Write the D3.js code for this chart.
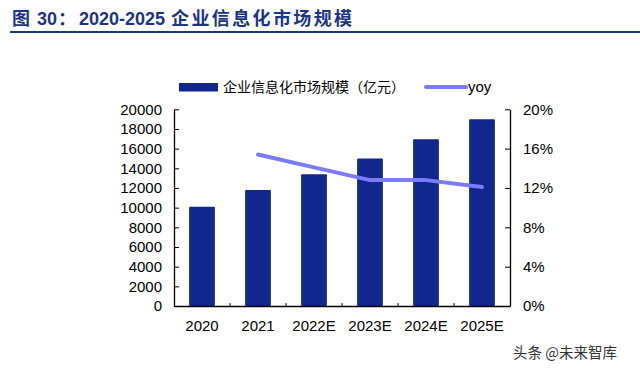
<!DOCTYPE html>
<html>
<head>
<meta charset="utf-8">
<script src="https://cdn.jsdelivr.net/npm/d3@7"></script>
<style>
  html, body { margin: 0; padding: 0; background: #fff; }
  svg { display: block; }
</style>
</head>
<body>
<svg id="chart" width="640" height="369"></svg>
<script>
const categories = ["2020", "2021", "2022E", "2023E", "2024E", "2025E"];
const marketSize = [10100, 11800, 13400, 15000, 16950, 19000];
const yoy = [null, 15.4, 14.1, 12.8, 12.8, 12.1];
const leftTicks = [0, 2000, 4000, 6000, 8000, 10000, 12000, 14000, 16000, 18000, 20000];
const rightTicks = [0, 4, 8, 12, 16, 20];
const titleParts = ["图", "30：", "2020-2025", "企业信息化市场规模"];
const legendLabels = ["企业信息化市场规模（亿元）", "yoy"];
const watermark = "头条 @未来智库";

const barColor = "#10278d";
const lineColor = "#7b7bff";
const titleColor = "#1b3589";
const latin = "'Liberation Sans', Arial, sans-serif";
const cjk = "'Noto Sans CJK SC', 'Liberation Sans', sans-serif";

const svg = d3.select("#chart");
const plot = { left: 174, right: 510, top: 109.3, bottom: 306 };

// Title
const tg = svg.append("g").attr("fill", titleColor).attr("font-weight", "bold");
tg.append("text").attr("x", 12).attr("y", 25).attr("font-family", cjk).attr("font-size", 18).text(titleParts[0]);
tg.append("text").attr("x", 37).attr("y", 25).attr("font-family", latin).attr("font-size", 18).text(titleParts[1].slice(0, 2));
tg.append("text").attr("x", 58).attr("y", 25).attr("font-family", cjk).attr("font-size", 18).text(titleParts[1].slice(2));
tg.append("text").attr("x", 79).attr("y", 25).attr("font-family", latin).attr("font-size", 18).text(titleParts[2]);
tg.append("text").attr("x", 171).attr("y", 25).attr("font-family", cjk).attr("font-size", 18)
  .attr("textLength", 181).attr("lengthAdjust", "spacing").text(titleParts[3]);
svg.append("line").attr("x1", 10).attr("x2", 640).attr("y1", 32).attr("y2", 32)
  .attr("stroke", titleColor).attr("stroke-width", 2);

// Scales
const x = d3.scaleBand().domain(categories).range([plot.left, plot.right])
  .paddingInner(0.54).paddingOuter(0.27);
const yL = d3.scaleLinear().domain([0, 20000]).range([plot.bottom, plot.top]);
const yR = d3.scaleLinear().domain([0, 20]).range([plot.bottom, plot.top]);

// Bars
svg.append("g").selectAll("rect").data(marketSize).join("rect")
  .attr("x", (d, i) => x(categories[i]))
  .attr("y", d => yL(d))
  .attr("width", x.bandwidth())
  .attr("height", d => plot.bottom - yL(d))
  .attr("rx", 1)
  .attr("fill", barColor);

// Line
const lineData = yoy.map((v, i) => ({ c: categories[i], v })).filter(d => d.v != null);
svg.append("path").datum(lineData)
  .attr("d", d3.line().x(d => x(d.c) + x.bandwidth() / 2).y(d => yR(d.v)))
  .attr("fill", "none").attr("stroke", lineColor).attr("stroke-width", 4)
  .attr("stroke-linecap", "round").attr("stroke-linejoin", "round");

// Left axis
const axL = svg.append("g").attr("transform", `translate(${plot.left},0)`)
  .call(d3.axisLeft(yL).tickValues(leftTicks).tickFormat(d3.format("d"))
    .tickSizeInner(-5).tickSizeOuter(0).tickPadding(12));
// Right axis
const axR = svg.append("g").attr("transform", `translate(${plot.right},0)`)
  .call(d3.axisRight(yR).tickValues(rightTicks).tickFormat(d => d + "%")
    .tickSizeInner(-5).tickSizeOuter(0).tickPadding(13));
// Bottom axis
const axB = svg.append("g").attr("transform", `translate(0,${plot.bottom})`)
  .call(d3.axisBottom(x).tickSize(0).tickPadding(14));

[axL, axR, axB].forEach(a => {
  a.selectAll("text").attr("font-family", latin).attr("font-size", 15).attr("fill", "#000");
  a.selectAll("line").attr("stroke", "#000");
  a.select(".domain").attr("stroke", "#000").attr("stroke-width", 1.3);
});

// Category boundary ticks on x axis
const step = x.step();
svg.append("g").selectAll("line").data(categories.slice(1)).join("line")
  .attr("x1", d => x(d) - x.bandwidth() * 0 - (step - x.bandwidth()) / 2)
  .attr("x2", d => x(d) - (step - x.bandwidth()) / 2)
  .attr("y1", plot.bottom).attr("y2", plot.bottom - 3)
  .attr("stroke", "#000");

// Legend
const lg = svg.append("g");
lg.append("rect").attr("x", 179).attr("y", 83).attr("width", 39).attr("height", 8.5).attr("fill", barColor);
lg.append("text").attr("x", 223).attr("y", 92).attr("font-family", cjk).attr("font-size", 14)
  .attr("fill", "#000").text(legendLabels[0]);
lg.append("line").attr("x1", 426).attr("x2", 466).attr("y1", 87).attr("y2", 87)
  .attr("stroke", lineColor).attr("stroke-width", 4).attr("stroke-linecap", "round");
lg.append("text").attr("x", 468).attr("y", 92).attr("font-family", latin).attr("font-size", 15)
  .attr("fill", "#000").text(legendLabels[1]);

// Watermark
svg.append("text").attr("x", 513).attr("y", 358).attr("font-family", cjk).attr("font-size", 14.5)
  .attr("fill", "#fff").attr("stroke", "#fff").attr("stroke-width", 3).text(watermark);
svg.append("text").attr("x", 513).attr("y", 358).attr("font-family", cjk).attr("font-size", 14.5)
  .attr("fill", "#333").text(watermark);
</script>
</body>
</html>
